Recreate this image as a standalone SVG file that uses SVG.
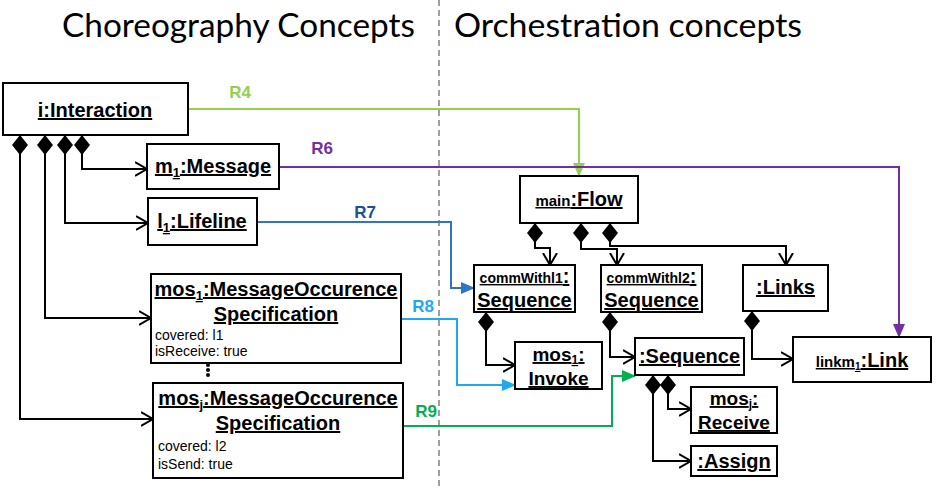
<svg xmlns="http://www.w3.org/2000/svg" width="938" height="489" viewBox="0 0 938 489">
<style>
.box{fill:#fff;stroke:#000;stroke-width:2}
.lbl{font-family:"Liberation Sans",Arial,sans-serif;font-weight:bold;font-size:20px;text-anchor:middle;text-decoration:underline;fill:#000}
.two{font-size:19px}
.attr{font-family:"Liberation Sans",Arial,sans-serif;font-size:14px;fill:#000}
.title{font-family:Lato,"Open Sans",sans-serif;font-size:33px;fill:#000}
.rl{font-family:"Liberation Sans",Arial,sans-serif;font-weight:bold;font-size:17px;text-anchor:middle}
.comp{fill:none;stroke:#000;stroke-width:2;marker-start:url(#dia);marker-end:url(#open)}
.rel{fill:none;stroke-width:2}
</style>
<defs>
<marker id="dia" markerUnits="userSpaceOnUse" markerWidth="22" markerHeight="18" refX="1" refY="8" orient="auto" viewBox="0 0 22 16">
<path d="M1,8 L11,0 L21,8 L11,16 Z" fill="#000"/>
</marker>
<marker id="open" markerUnits="userSpaceOnUse" markerWidth="14" markerHeight="18" refX="12" refY="8" orient="auto" viewBox="0 0 14 16">
<path d="M0,1 L12,8 L0,15" fill="none" stroke="#000" stroke-width="2"/>
</marker>
<marker id="aR4" markerUnits="userSpaceOnUse" markerWidth="14" markerHeight="12" refX="13" refY="6" orient="auto" viewBox="0 0 14 12"><path d="M0,0 L14,6 L0,12 Z" fill="#92D050"/></marker>
<marker id="aR6" markerUnits="userSpaceOnUse" markerWidth="14" markerHeight="12" refX="13" refY="6" orient="auto" viewBox="0 0 14 12"><path d="M0,0 L14,6 L0,12 Z" fill="#7030A0"/></marker>
<marker id="aR7" markerUnits="userSpaceOnUse" markerWidth="14" markerHeight="12" refX="13" refY="6" orient="auto" viewBox="0 0 14 12"><path d="M0,0 L14,6 L0,12 Z" fill="#2E75C6"/></marker>
<marker id="aR8" markerUnits="userSpaceOnUse" markerWidth="14" markerHeight="12" refX="13" refY="6" orient="auto" viewBox="0 0 14 12"><path d="M0,0 L14,6 L0,12 Z" fill="#1EAAF0"/></marker>
<marker id="aR9" markerUnits="userSpaceOnUse" markerWidth="14" markerHeight="12" refX="13" refY="6" orient="auto" viewBox="0 0 14 12"><path d="M0,0 L14,6 L0,12 Z" fill="#00B050"/></marker>
</defs>
<rect width="938" height="489" fill="#fff"/>

<g id="titles">
<text class="title" x="62" y="37" textLength="353" lengthAdjust="spacingAndGlyphs">Choreography Concepts</text>
<text class="title" x="454" y="37" textLength="348" lengthAdjust="spacingAndGlyphs">Orchestration concepts</text>
<line x1="439" y1="0" x2="439" y2="489" stroke="#808080" stroke-width="1.5" stroke-dasharray="6,4"/>
</g>

<g id="connectors">
<path class="comp" d="M82,135 V169 H147"/>
<path class="comp" d="M65,135 V223 H148"/>
<path class="comp" d="M45,135 V318 H151"/>
<path class="comp" d="M20,135 V419 H153"/>
<path class="comp" d="M535,223 V248 H550 V265"/>
<path class="comp" d="M581,223 V249 H617 V265"/>
<path class="comp" d="M610,223 V246 H786 V265"/>
<path class="comp" d="M752,311 V359 H793"/>
<path class="comp" d="M486,312 V365 H515"/>
<path class="comp" d="M610,312 V357 H635"/>
<path class="comp" d="M668,375 V409 H691"/>
<path class="comp" d="M653,375 V461 H691"/>

<path class="rel" stroke="#92D050" d="M188,109 H579 V176" marker-end="url(#aR4)"/>
<path class="rel" stroke="#7030A0" d="M279,167 H899 V337" marker-end="url(#aR6)"/>
<path class="rel" stroke="#2E75C6" d="M257,222 H451 V288 H474" marker-end="url(#aR7)"/>
<path class="rel" stroke="#1EAAF0" d="M401,319 H457 V385 H515" marker-end="url(#aR8)"/>
<path class="rel" stroke="#00B050" d="M403,426 H612 V376 H635" marker-end="url(#aR9)"/>

<text class="rl" x="240" y="98" fill="#92D050">R4</text>
<text class="rl" x="322" y="154" fill="#7030A0">R6</text>
<text class="rl" x="365" y="218" fill="#1F4E99">R7</text>
<text class="rl" x="423" y="312" fill="#1EAAF0">R8</text>
<text class="rl" x="426" y="417" fill="#00B050">R9</text>
</g>

<g id="interaction">
<rect class="box" x="3" y="83" width="185" height="52"/>
<text class="lbl" x="95" y="117">i:Interaction</text>
</g>
<g id="message">
<rect class="box" x="147" y="144" width="132" height="45"/>
<text class="lbl" x="213" y="173">m<tspan font-size="13" dy="4">1</tspan><tspan dy="-4">:Message</tspan></text>
</g>
<g id="lifeline">
<rect class="box" x="148" y="198" width="109" height="47"/>
<text class="lbl" x="202" y="228">l<tspan font-size="13" dy="4">1</tspan><tspan dy="-4">:Lifeline</tspan></text>
</g>
<g id="mos1">
<rect class="box" x="151" y="274" width="250" height="89"/>
<text class="lbl" x="276" y="296">mos<tspan font-size="13" dy="4">1</tspan><tspan dy="-4">:MessageOccurence</tspan></text>
<text class="lbl" x="276" y="321">Specification</text>
<text class="attr" x="155" y="340">covered: l1</text>
<text class="attr" x="155" y="356">isReceive: true</text>
</g>
<g id="ellipsis">
<circle cx="208" cy="365" r="2"/>
<circle cx="208" cy="370" r="2"/>
<circle cx="208" cy="375" r="2"/>
</g>
<g id="mosj">
<rect class="box" x="153" y="383" width="250" height="95"/>
<text class="lbl" x="278" y="405">mos<tspan font-size="13" dy="4">j</tspan><tspan dy="-4">:MessageOccurence</tspan></text>
<text class="lbl" x="278" y="430">Specification</text>
<text class="attr" x="158" y="451" font-size="16">covered: l2</text>
<text class="attr" x="158" y="469" font-size="16">isSend: true</text>
</g>

<g id="flow">
<rect class="box" x="520" y="176" width="118" height="47"/>
<text class="lbl" x="579" y="206"><tspan font-size="15">main</tspan>:Flow</text>
</g>
<g id="commWithl1">
<rect class="box" x="474" y="265" width="101" height="47"/>
<text class="lbl" x="524.5" y="283"><tspan font-size="14">commWithl1</tspan>:</text>
<text class="lbl" x="524.5" y="307">Sequence</text>
</g>
<g id="commWithl2">
<rect class="box" x="601" y="265" width="101" height="47"/>
<text class="lbl" x="651.5" y="283"><tspan font-size="14">commWithl2</tspan>:</text>
<text class="lbl" x="651.5" y="307">Sequence</text>
</g>
<g id="links">
<rect class="box" x="743" y="265" width="85" height="46"/>
<text class="lbl" x="785.5" y="294">:Links</text>
</g>
<g id="link">
<rect class="box" x="793" y="337" width="138" height="45"/>
<text class="lbl" x="862" y="367"><tspan font-size="15">linkm</tspan><tspan font-size="10" dy="3">1</tspan><tspan dy="-3">:Link</tspan></text>
</g>
<g id="invoke">
<rect class="box" x="515" y="342" width="87" height="47"/>
<text class="lbl two" x="558.5" y="361">mos<tspan font-size="12" dy="3">1</tspan><tspan dy="-3">:</tspan></text>
<text class="lbl two" x="558.5" y="385">Invoke</text>
</g>
<g id="sequence">
<rect class="box" x="635" y="338" width="109" height="37"/>
<text class="lbl" x="689.5" y="363">:Sequence</text>
</g>
<g id="receive">
<rect class="box" x="691" y="387" width="86" height="46"/>
<text class="lbl two" x="734" y="405">mos<tspan font-size="12" dy="3">j</tspan><tspan dy="-3">:</tspan></text>
<text class="lbl two" x="734" y="429">Receive</text>
</g>
<g id="assign">
<rect class="box" x="691" y="446" width="86" height="30"/>
<text class="lbl" x="734" y="468">:Assign</text>
</g>
</svg>
